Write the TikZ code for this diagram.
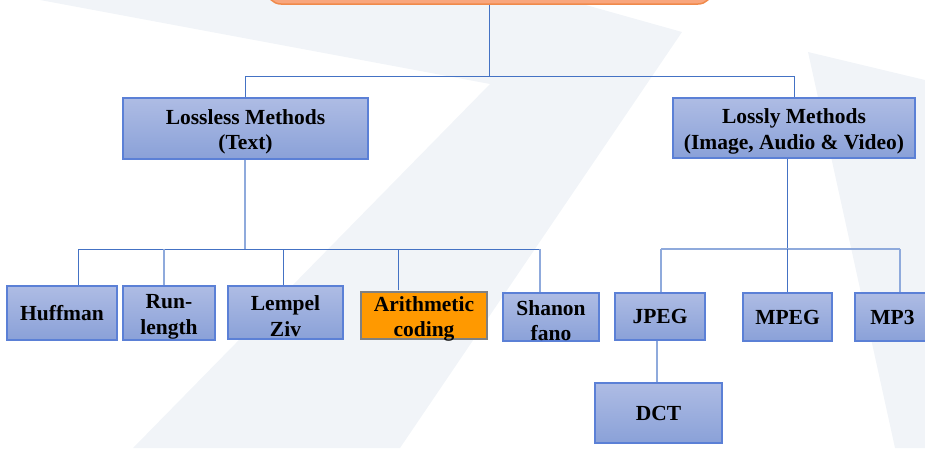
\documentclass[tikz,border=0pt]{standalone}
\usepackage{fontspec}
\setmainfont{Liberation Serif}
\definecolor{wm}{HTML}{F1F4F8}
\definecolor{linec}{HTML}{4472C4}
\definecolor{linel}{HTML}{8FAADC}
\definecolor{boxtop}{HTML}{AEBCE4}
\definecolor{boxbot}{HTML}{8AA1D8}
\definecolor{boxline}{HTML}{5B80D6}
\definecolor{rootfill}{HTML}{F9A67D}
\definecolor{rootline}{HTML}{F08A4B}
\definecolor{arithfill}{HTML}{FF9900}
\newcommand{\topgap}{\rule{0pt}{22pt}}
\begin{document}
\begin{tikzpicture}[x=1pt,y=-1pt,
  bluebox/.style={draw=boxline, line width=1.2pt, top color=boxtop, bottom color=boxbot,
    align=center, inner sep=0pt, font=\fontsize{21.5}{25.5}\selectfont\bfseries},
  orangebox/.style={draw=gray, line width=1.2pt, fill=arithfill,
    align=center, inner xsep=0pt, inner ysep=-2.6pt, font=\fontsize{21.5}{25.5}\selectfont\bfseries},
  conn/.style={draw=linec, line width=1pt},
  connl/.style={draw=linel, line width=1.2pt}]
\useasboundingbox (0,0) rectangle (925,448);
% watermark shapes
\fill[wm] (40,0) -- (568,0) -- (682,32) -- (400,448) -- (133,448) -- (490,84) -- cycle;
\fill[wm] (808,52) -- (925,80) -- (925,448) -- (895,448) -- cycle;
% root
\node[draw=rootline, line width=1.5pt, fill=rootfill, rounded corners=14pt,
  minimum width=445pt, minimum height=60pt, inner sep=0pt] (root) at (489.5,-26) {};
% level 1
\node[bluebox, minimum width=245pt, minimum height=61pt] (lossless) at (245.5,128.5) {\topgap Lossless Methods\\(Text)};
\node[bluebox, minimum width=242pt, minimum height=60pt] (lossly) at (794,128) {\topgap Lossly Methods\\(Image, Audio \& Video)};
% level 2
\node[bluebox, minimum width=110pt, minimum height=54pt] (huffman) at (62,313) {Huffman};
\node[bluebox, minimum width=92pt, minimum height=54pt] (runlength) at (169,313) {\topgap Run-\\length};
\node[bluebox, minimum width=115pt, minimum height=53pt] (lempel) at (285.5,312.5) {\topgap Lempel\\Ziv};
\node[orangebox, minimum width=126pt, minimum height=47pt] (arith) at (424,315.5) {\topgap Arithmetic\\coding};
\node[bluebox, minimum width=96pt, minimum height=48pt] (shanon) at (551,317) {\topgap Shanon\\fano};
\node[bluebox, minimum width=90pt, minimum height=47pt] (jpeg) at (660,316.5) {JPEG};
\node[bluebox, minimum width=89pt, minimum height=48pt] (mpeg) at (787.5,317) {MPEG};
\node[bluebox, minimum width=75pt, minimum height=48pt] (mp3) at (892.5,317) {MP3};
% level 3
\node[bluebox, minimum width=127pt, minimum height=60pt] (dct) at (658.5,413) {DCT};
% bus coordinates
\coordinate (bus0) at (489.5,76);
\coordinate (busL) at (245,249);
\coordinate (busR) at (787,249);
\coordinate (d1) at (78,249);
\coordinate (d2) at (164,249);
\coordinate (d3) at (283,249);
\coordinate (d4) at (398,249);
\coordinate (d5) at (540,249);
\coordinate (e1) at (661,249);
\coordinate (e2) at (787,249);
\coordinate (e3) at (900,249);
\coordinate (j1) at (657,340);
% connectors
\draw[conn] (root.south) -- (bus0);
\draw[conn] (lossless.north) -- (lossless.north |- bus0) -- (lossly.north |- bus0) -- (lossly.north);
\draw[connl] (lossless.south -| busL) -- (busL);
\draw[conn] (d1) -- (d5);
\draw[conn] (d1) -- (d1 |- huffman.north);
\draw[connl] (d2) -- (d2 |- runlength.north);
\draw[conn] (d3) -- (d3 |- lempel.north);
\draw[conn] ([yshift=1pt]d4 |- arith.north) -- (d4);
\draw[connl] (d5) -- (d5 |- shanon.north);
\draw[conn] (lossly.south -| busR) -- (busR);
\draw[connl] (e1) -- (e3);
\draw[connl] (e1) -- (e1 |- jpeg.north);
\draw[conn] (e2) -- (e2 |- mpeg.north);
\draw[connl] (e3) -- (e3 |- mp3.north);
\draw[connl] (j1 |- jpeg.south) -- (j1 |- dct.north);
\end{tikzpicture}
\end{document}
